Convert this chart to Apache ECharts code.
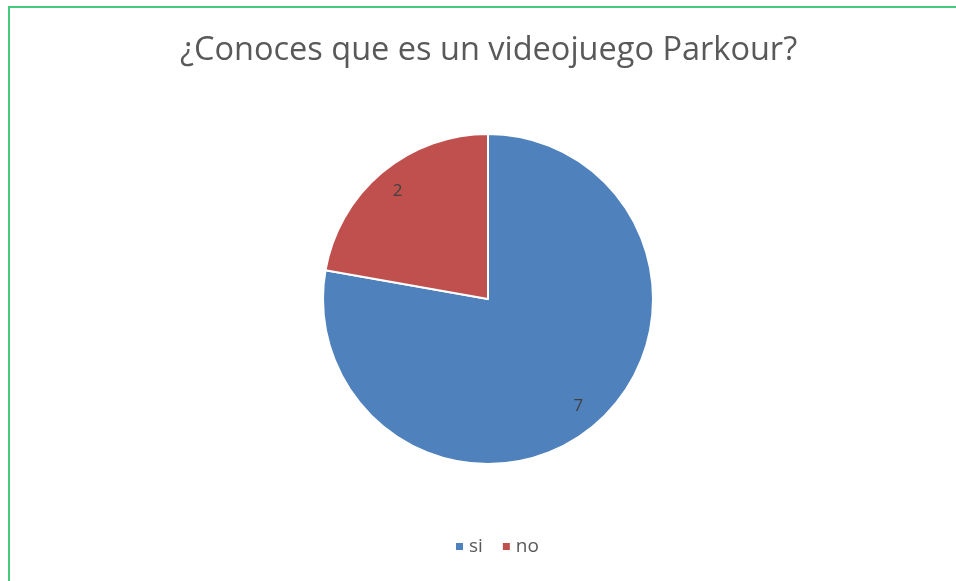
<!DOCTYPE html>
<html><head><meta charset="utf-8">
<script src="https://cdn.jsdelivr.net/npm/echarts@6/dist/echarts.min.js"></script>
<style>html,body{margin:0;padding:0;background:#fff}#c{width:956px;height:581px}</style>
</head><body><div id="c"></div>
<script>
var titleText = '¿Conoces que es un videojuego Parkour?';
var categories = ['si', 'no'];
var values = [7, 2];
var colors = ['#4f81bd', '#c0504d'];

var chart = echarts.init(document.getElementById('c'));
var data = categories.map(function(c, i){ return {name: c, value: values[i], itemStyle: {color: colors[i]}}; });
var font = '"Open Sans", Lato, sans-serif';
chart.setOption({
  animation: false,
  backgroundColor: '#fff',
  title: {text: titleText, left: 175, top: 29,
    textStyle: {fontFamily: font, fontSize: 32.5, fontWeight: 'normal', color: '#595959'}},
  legend: {data: categories, top: 532, left: 449, icon: 'rect', itemWidth: 9, itemHeight: 9, itemGap: 18,
    textStyle: {fontFamily: font, fontSize: 19, color: '#595959'}},
  graphic: [{type: 'rect', shape: {x: 9, y: 7, width: 960, height: 600}, style: {fill: 'none', stroke: '#45c97a', lineWidth: 2}, silent: true}],
  series: [
    {type: 'pie', center: [488, 299], radius: [0, 165], startAngle: 90, clockwise: true,
     data: data, label: {show: false}, labelLine: {show: false},
     itemStyle: {borderColor: '#fff', borderWidth: 2}, emphasis: {disabled: true}},
    {type: 'pie', center: [488, 299], radius: [110, 165], startAngle: 90, clockwise: true,
     data: categories.map(function(c, i){ return {name: c, value: values[i]}; }),
     itemStyle: {color: 'rgba(0,0,0,0)'}, legendHoverLink: false, silent: true,
     label: {show: true, position: 'inside', formatter: '{c}', fontFamily: font, fontSize: 17, color: '#404040'},
     labelLine: {show: false}, emphasis: {disabled: true}}
  ]
});
</script></body></html>
